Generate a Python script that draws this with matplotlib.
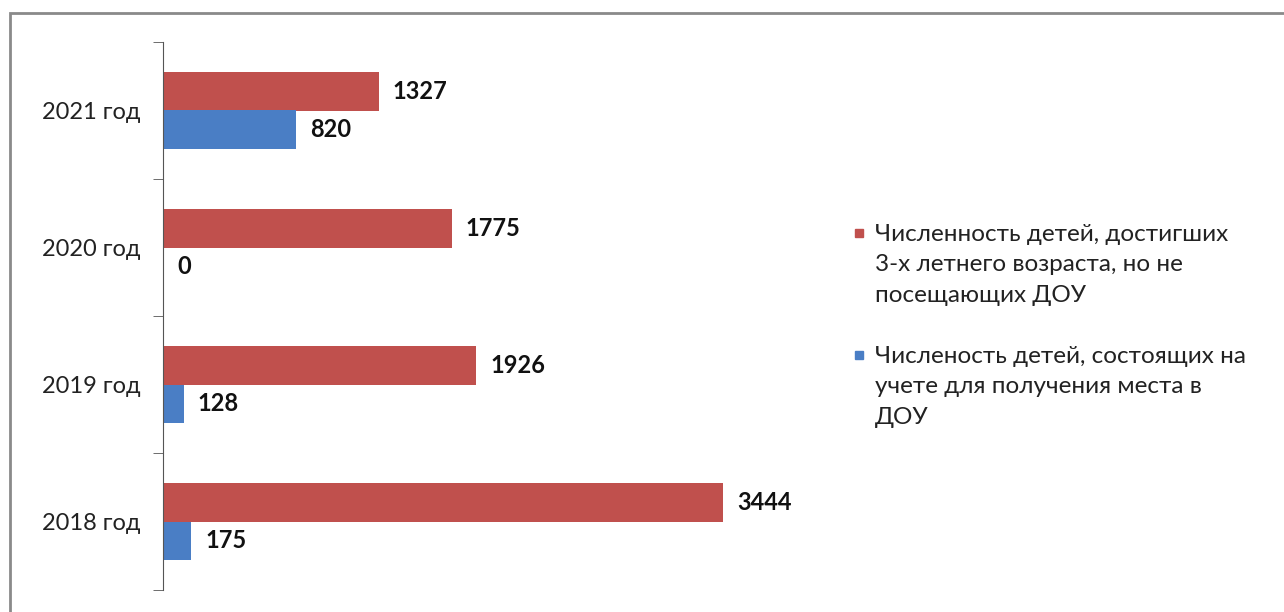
import numpy as np
import matplotlib.pyplot as plt
from matplotlib.patches import Rectangle

# Datos
anios = ['2018 год', '2019 год', '2020 год', '2021 год']
no_visitan = [3444, 1926, 1775, 1327]
en_cola = [175, 128, 0, 820]
etiquetas = ['Численность детей, достигших\n3-х летнего возраста, но не\nпосещающих ДОУ',
             'Численость детей, состоящих на\nучете для получения места в\nДОУ']

rojo = '#C0504D'
azul = '#4A7EC5'

plt.rcParams['font.family'] = ['Lato', 'DejaVu Sans']

W, H = 1284, 612
fig = plt.figure(figsize=(W / 100, H / 100), dpi=100)
ax = fig.add_axes([163 / W, 1 - 590 / H, 637 / W, 548 / H])

y = np.arange(len(anios))
h = 0.28
b1 = ax.barh(y + h / 2, no_visitan, height=h, color=rojo)
b2 = ax.barh(y - h / 2, en_cola, height=h, color=azul)

for barras in (b1, b2):
    for b in barras:
        ax.annotate(f'{int(b.get_width())}', (b.get_width(), b.get_y() + b.get_height() / 2),
                    xytext=(10, 0), textcoords='offset points', va='center', ha='left',
                    fontsize=17, fontweight='bold', color='#111111')

ax.set_xlim(0, 3918)
ax.set_ylim(-0.5, 3.5)
ax.set_yticks(y)
ax.set_yticklabels(anios, fontsize=17, color='#222222')
ax.set_yticks(np.arange(-0.5, 4, 1), minor=True)
ax.tick_params(axis='y', which='major', length=0, pad=16)
ax.tick_params(axis='y', which='minor', length=7, direction='out', color='#555555')
ax.set_xticks([])
for s in ('top', 'right', 'bottom'):
    ax.spines[s].set_visible(False)
ax.spines['left'].set_color('#555555')

# Leyenda (marcador alineado con la primera línea)
for etiqueta, color, y_px in zip(etiquetas, [rojo, azul], [233, 355]):
    fig.text(875 / W, 1 - (y_px - 9) / H, etiqueta, ha='left', va='top', fontsize=17.5,
             linespacing=1.55, color='#222222')
    fig.patches.append(Rectangle((855 / W, 1 - (y_px + 4) / H), 8 / W, 8 / H,
                                 transform=fig.transFigure, color=color))

# Marco gris
fig.patches.append(Rectangle((10 / W, -0.05), 1.1, 1 - 13 / H + 0.05,
                             transform=fig.transFigure, fill=False, edgecolor='#8a8a8a', linewidth=2))

fig.savefig('out.png', dpi=100)
